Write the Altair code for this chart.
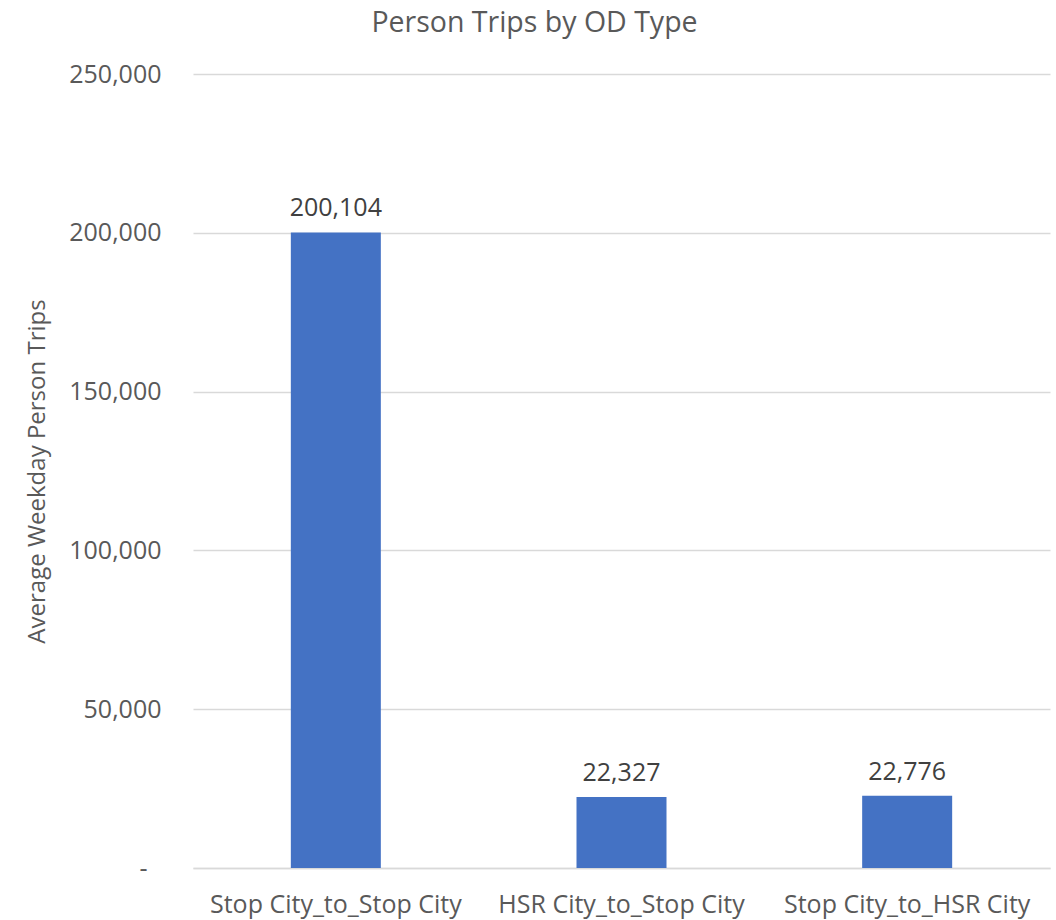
import altair as alt
import pandas as pd

# Average weekday person trips by origin-destination type
od_types = ["Stop City_to_Stop City", "HSR City_to_Stop City", "Stop City_to_HSR City"]
trips = [200104, 22327, 22776]
y_ticks = [0, 50000, 100000, 150000, 200000, 250000]

df = pd.DataFrame({"od_type": od_types, "trips": trips})

FONT = "Open Sans"
GREY = "#595959"

x_enc = alt.X(
    "od_type:N",
    sort=od_types,
    title=None,
    scale=alt.Scale(paddingInner=0, paddingOuter=0),
    axis=alt.Axis(
        labelAngle=0,
        labelFont=FONT,
        labelFontSize=25,
        labelColor=GREY,
        labelPadding=24,
        labelLimit=0,
        ticks=False,
        domain=True,
        domainColor="#d9d9d9",
        domainWidth=1.5,
        grid=False,
    ),
)

y_enc = alt.Y(
    "trips:Q",
    title="Average Weekday Person Trips",
    scale=alt.Scale(domain=[0, 250000], nice=False),
    axis=alt.Axis(
        values=y_ticks,
        labelExpr="datum.value == 0 ? '-' : format(datum.value, ',')",
        labelFont=FONT,
        labelFontSize=25,
        labelColor=GREY,
        labelPadding={"condition": {"test": "datum.value === 0", "value": 46}, "value": 32},
        ticks=False,
        domain=False,
        gridColor="#d9d9d9",
        gridWidth=1.5,
        titleFont=FONT,
        titleFontSize=24,
        titleFontWeight="normal",
        titleColor=GREY,
        titleX=-144,
        titleY=397,
    ),
)

bars = alt.Chart(df).mark_bar(color="#4472C4", size=90).encode(x=x_enc, y=y_enc)

labels = alt.Chart(df).mark_text(
    font=FONT, fontSize=25, color="#404040", baseline="bottom", dy=-11
).encode(
    x=alt.X("od_type:N", sort=od_types),
    y="trips:Q",
    text=alt.Text("trips:Q", format=","),
)

chart = (
    alt.layer(bars, labels)
    .properties(
        width=857,
        height=794,
        background="white",
        title=alt.TitleParams(
            "Person Trips by OD Type",
            font=FONT,
            fontSize=28.5,
            fontWeight="normal",
            color=GREY,
            anchor="middle",
            dx=-87,
            offset=25,
        ),
        autosize=alt.AutoSizeParams(type="none"),
        padding={"left": 193, "top": 74, "right": 6, "bottom": 52},
    )
    .configure_view(strokeWidth=0, stroke=None)
)

chart.save("out.html", embed_options={"renderer": "svg", "actions": False})
